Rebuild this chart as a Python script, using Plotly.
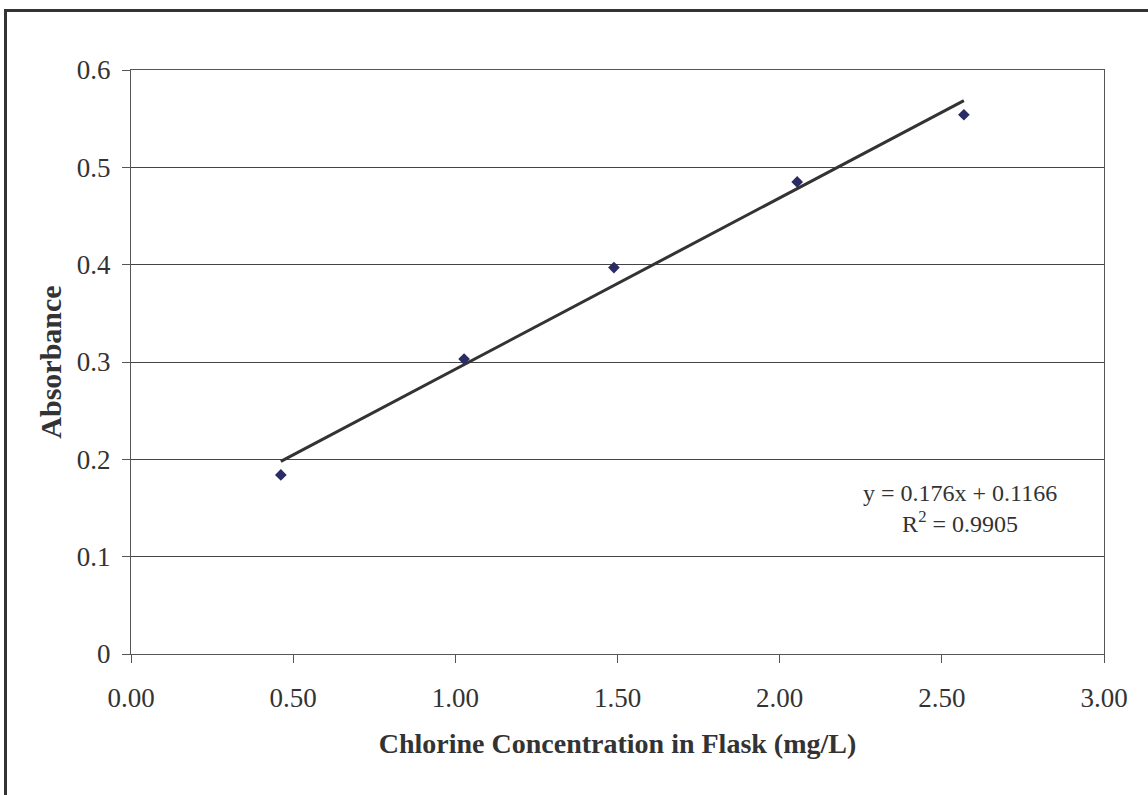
import plotly.graph_objects as go

# Calibration measurements
concentration = [0.462, 1.027, 1.489, 2.054, 2.568]   # mg/L
absorbance = [0.184, 0.303, 0.397, 0.485, 0.554]

# Linear fit reported on the chart
slope = 0.176
intercept = 0.1166
r_squared = 0.9905

x_ticks = [0.0, 0.5, 1.0, 1.5, 2.0, 2.5, 3.0]
y_ticks = [0.0, 0.1, 0.2, 0.3, 0.4, 0.5, 0.6]
y_tick_text = ["0", "0.1", "0.2", "0.3", "0.4", "0.5", "0.6"]

fit_x = [min(concentration), max(concentration)]
fit_y = [slope * v + intercept for v in fit_x]

FONT = "Liberation Serif, Times New Roman, serif"
TXT = "#333333"
LINE = "#555555"

fig = go.Figure()

fig.add_trace(go.Scatter(
    x=fit_x, y=fit_y, mode="lines",
    line=dict(color="#333333", width=3),
    hoverinfo="skip", showlegend=False,
))

fig.add_trace(go.Scatter(
    x=concentration, y=absorbance, mode="markers",
    marker=dict(symbol="diamond", size=9, color="#2B2B66"),
    showlegend=False,
))

fig.add_annotation(
    x=2.556, y=0.149, xref="x", yref="y",
    text=f"y = {slope}x + {intercept}<br>R<sup>2</sup> = {r_squared}",
    showarrow=False, align="center",
    font=dict(family=FONT, size=24, color=TXT),
)

# Outer chart frame (extends past right/bottom edges)
fig.add_shape(
    type="rect", xref="paper", yref="paper",
    x0=(5.5 - 131) / 973, x1=1.2,
    y0=-0.5, y1=1 + (70 - 10.5) / 584,
    line=dict(color="#333333", width=3),
    layer="above",
)

fig.update_xaxes(
    range=[0, 3], tickvals=x_ticks, tickformat=".2f",
    ticks="outside", ticklen=8, tickcolor=LINE, tickwidth=1,
    showline=True, linecolor=LINE, linewidth=1, mirror=True,
    showgrid=False, zeroline=False,
    tickfont=dict(family=FONT, size=27, color=TXT),
    ticklabelstandoff=12,
    title=dict(text="<b>Chlorine Concentration in Flask (mg/L)</b>",
               font=dict(family=FONT, size=28, color=TXT), standoff=20),
)

fig.update_yaxes(
    range=[0, 0.6], tickvals=y_ticks, ticktext=y_tick_text,
    ticks="outside", ticklen=8, tickcolor=LINE, tickwidth=1,
    showline=True, linecolor=LINE, linewidth=1, mirror=True,
    showgrid=True, gridcolor="#444444", gridwidth=1, zeroline=False,
    tickfont=dict(family=FONT, size=27, color=TXT),
    ticklabelstandoff=6,
    title=dict(text="<b>Absorbance</b>",
               font=dict(family=FONT, size=30, color=TXT), standoff=6),
)

fig.update_layout(
    width=1148, height=795,
    margin=dict(l=131, r=44, t=70, b=141),
    paper_bgcolor="white", plot_bgcolor="white",
)

fig.write_html("out.html")
